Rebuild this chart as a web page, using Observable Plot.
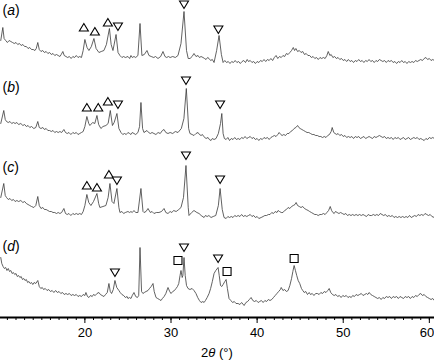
<!DOCTYPE html>
<html>
<head>
<meta charset="utf-8">
<script src="https://cdn.jsdelivr.net/npm/d3@7"></script>
<script src="https://cdn.jsdelivr.net/npm/@observablehq/plot@0.6"></script>
<style>
  html, body { margin: 0; padding: 0; background: white; }
</style>
</head>
<body>
<div id="chart"></div>
<script>
// ---- data (2θ in degrees, intensity above each trace's baseline) ----
const traceA = [[10.23,22],[10.47,35],[10.62,24],[10.8,22],[11.0,20],[11.2,22],[11.4,21],[11.6,20],[11.8,19],[12.0,20],[12.2,18],[12.4,19],[12.6,17],[12.8,18],[13.0,16],[13.2,16],[13.4,14],[13.6,15],[13.8,13],[14.0,13],[14.2,12],[14.35,14],[14.53,20],[14.7,13],[14.9,11],[15.1,12],[15.3,10],[15.5,11],[15.7,9],[15.9,10],[16.1,8],[16.3,9],[16.5,7],[16.7,8],[16.9,7],[17.1,6],[17.25,8],[17.44,11],[17.6,7],[17.8,6],[18.0,5],[18.2,6],[18.4,4],[18.6,6],[18.8,5],[19.0,7],[19.2,5],[19.4,6],[19.6,5],[19.8,12],[20.0,23],[20.25,15],[20.47,12],[20.75,16],[21.05,24],[21.3,14],[21.63,10],[21.9,11],[22.21,12],[22.5,18],[22.85,34],[23.05,18],[23.26,12],[23.62,28],[23.85,10],[24.07,7],[24.3,5],[24.5,6],[24.7,5],[25.0,6],[25.2,4],[25.35,7],[25.5,5],[25.7,6],[25.9,5],[26.16,7],[26.4,39],[26.62,7],[26.9,8],[27.21,12],[27.44,7],[27.7,6],[28.0,5],[28.2,6],[28.49,4],[28.8,6],[29.07,11],[29.3,6],[29.5,5],[29.7,6],[29.9,5],[30.2,6],[30.5,5],[30.81,7],[31.16,19],[31.51,51],[31.8,12],[32.0,4],[32.21,4],[32.45,6],[32.67,9],[32.9,6],[33.14,7],[33.3,5],[33.49,6],[33.72,5],[33.9,4],[34.07,3],[34.25,5],[34.42,4],[34.6,2],[34.8,3],[35.0,0],[35.3,12],[35.58,27],[35.85,8],[36.05,0],[36.25,2],[36.45,0],[36.65,1],[36.85,-1],[37.05,1],[37.25,0],[37.45,2],[37.65,0],[37.85,1],[38.05,-1],[38.25,1],[38.45,2],[38.65,0],[38.85,3],[39.0,1],[39.2,2],[39.4,0],[39.6,1],[39.8,-1],[40.0,1],[40.2,0],[40.4,2],[40.6,1],[40.8,3],[41.0,1],[41.2,3],[41.4,2],[41.6,4],[41.8,2],[42.0,5],[42.2,7],[42.4,4],[42.6,6],[42.8,5],[43.0,7],[43.2,6],[43.4,9],[43.6,8],[43.8,10],[44.0,12],[44.2,15],[44.35,12],[44.5,14],[44.7,11],[44.9,12],[45.1,10],[45.3,11],[45.5,8],[45.7,9],[45.9,7],[46.1,7],[46.3,5],[46.5,6],[46.7,4],[46.9,5],[47.1,3],[47.3,5],[47.5,4],[47.7,5],[47.9,4],[48.1,7],[48.26,11],[48.45,7],[48.6,8],[48.8,5],[49.0,6],[49.2,4],[49.4,5],[49.6,3],[49.8,4],[50.0,2],[50.2,3],[50.4,1],[50.6,3],[50.8,1],[51.0,2],[51.2,0],[51.4,2],[51.6,1],[51.8,3],[52.0,1],[52.2,2],[52.4,0],[52.6,2],[52.8,1],[53.0,3],[53.2,1],[53.4,2],[53.6,0],[53.8,2],[54.0,1],[54.2,3],[54.4,2],[54.6,1],[54.8,2],[55.0,0],[55.2,2],[55.4,1],[55.6,2],[55.8,0],[56.0,1],[56.2,-1],[56.4,1],[56.6,0],[56.8,2],[57.0,0],[57.2,1],[57.4,-1],[57.6,1],[57.8,0],[58.0,1],[58.2,0],[58.4,2],[58.6,1],[58.8,2],[59.0,3],[59.2,2],[59.4,4],[59.6,5],[59.8,3],[60.0,4],[60.2,2],[60.4,3],[60.58,2]];
const traceB = [[10.23,15],[10.58,28],[10.75,19],[10.9,17],[11.1,16],[11.3,17],[11.5,15],[11.7,16],[11.9,15],[12.1,16],[12.3,14],[12.56,15],[12.8,13],[13.0,14],[13.2,12],[13.4,13],[13.6,11],[13.8,12],[14.07,10],[14.3,11],[14.53,17],[14.7,11],[14.9,10],[15.12,11],[15.3,9],[15.5,10],[15.7,8],[15.9,8],[16.1,7],[16.3,8],[16.5,6],[16.7,7],[16.9,6],[17.1,7],[17.3,6],[17.56,9],[17.75,6],[17.95,5],[18.15,6],[18.37,4],[18.6,6],[18.8,5],[19.0,6],[19.2,4],[19.4,5],[19.6,6],[19.8,7],[20.0,12],[20.23,22],[20.45,15],[20.58,13],[20.9,16],[21.15,15],[21.4,23],[21.6,14],[21.86,10],[22.1,12],[22.44,13],[22.7,15],[22.95,28],[23.2,13],[23.4,16],[23.72,25],[23.95,10],[24.19,6],[24.4,4],[24.6,5],[24.8,4],[25.0,6],[25.2,5],[25.35,4],[25.5,6],[25.7,5],[25.9,4],[26.16,6],[26.35,12],[26.51,36],[26.7,10],[26.86,6],[27.21,8],[27.4,6],[27.6,5],[27.8,6],[28.02,5],[28.25,4],[28.5,6],[28.75,5],[29.0,8],[29.19,9],[29.4,6],[29.65,5],[29.9,6],[30.2,5],[30.5,7],[30.81,6],[31.2,10],[31.5,20],[31.78,50],[32.05,10],[32.2,5],[32.45,4],[32.67,3],[32.9,5],[33.14,6],[33.3,4],[33.49,3],[33.65,4],[33.8,2],[34.07,0],[34.3,1],[34.45,-1],[34.65,-2],[34.8,0],[35.0,-1],[35.23,0],[35.5,5],[35.75,15],[35.9,25],[36.05,5],[36.2,0],[36.4,-1],[36.6,1],[36.8,-2],[37.0,0],[37.2,-1],[37.4,1],[37.6,-1],[37.8,0],[38.0,-1],[38.2,1],[38.4,0],[38.6,2],[38.8,0],[39.0,1],[39.2,2],[39.4,0],[39.6,1],[39.8,-1],[40.0,0],[40.2,-2],[40.4,0],[40.6,-1],[40.8,1],[41.0,0],[41.2,1],[41.4,-1],[41.6,1],[41.8,2],[42.0,3],[42.2,2],[42.4,4],[42.56,6],[42.75,4],[42.9,3],[43.1,4],[43.3,3],[43.5,5],[43.7,5],[43.9,7],[44.1,8],[44.3,10],[44.5,11],[44.7,13],[44.85,11],[45.0,10],[45.2,9],[45.4,8],[45.6,7],[45.8,6],[46.0,6],[46.2,5],[46.4,4],[46.6,4],[46.8,3],[47.0,3],[47.2,2],[47.4,2],[47.6,1],[47.8,2],[48.0,1],[48.2,3],[48.4,4],[48.6,7],[48.72,11],[48.9,6],[49.05,5],[49.25,4],[49.4,5],[49.6,3],[49.8,4],[50.0,2],[50.2,3],[50.4,1],[50.6,2],[50.8,1],[51.0,2],[51.2,0],[51.4,2],[51.6,1],[51.8,2],[52.0,0],[52.2,1],[52.4,2],[52.6,0],[52.8,1],[53.0,2],[53.2,1],[53.4,0],[53.6,2],[53.8,1],[54.0,2],[54.2,3],[54.4,2],[54.6,1],[54.8,2],[55.0,0],[55.2,1],[55.4,0],[55.6,1],[55.8,-1],[56.0,1],[56.2,0],[56.4,1],[56.6,-1],[56.8,0],[57.0,1],[57.2,-1],[57.4,0],[57.6,1],[57.8,-1],[58.0,0],[58.2,1],[58.4,0],[58.6,1],[58.8,-1],[59.0,0],[59.2,-1],[59.4,-2],[59.6,0],[59.8,-1],[60.0,1],[60.2,0],[60.4,1],[60.58,0]];
const traceC = [[10.23,20],[10.58,34],[10.75,22],[10.9,20],[11.1,18],[11.3,19],[11.5,17],[11.7,18],[11.9,16],[12.1,17],[12.3,16],[12.56,17],[12.8,15],[13.0,16],[13.2,14],[13.4,13],[13.6,12],[13.8,11],[14.07,10],[14.3,12],[14.53,21],[14.7,12],[14.9,9],[15.12,10],[15.3,8],[15.5,8],[15.7,7],[15.9,6],[16.1,6],[16.3,5],[16.5,5],[16.7,4],[16.9,5],[17.1,4],[17.3,5],[17.56,9],[17.75,4],[17.95,3],[18.15,4],[18.37,2],[18.6,4],[18.8,3],[19.0,4],[19.2,3],[19.4,4],[19.6,3],[19.8,6],[20.0,12],[20.23,23],[20.45,15],[20.7,12],[21.0,16],[21.4,24],[21.6,14],[21.74,10],[22.1,11],[22.44,12],[22.7,20],[22.91,34],[23.15,16],[23.37,14],[23.72,29],[23.95,10],[24.07,5],[24.3,6],[24.5,4],[24.7,5],[25.0,6],[25.2,5],[25.35,6],[25.5,5],[25.7,7],[25.9,5],[26.16,5],[26.51,29],[26.75,6],[26.86,5],[27.1,6],[27.33,9],[27.6,5],[27.8,6],[28.02,4],[28.3,5],[28.6,5],[28.9,6],[29.19,9],[29.4,5],[29.65,4],[29.9,6],[30.1,5],[30.3,7],[30.6,6],[30.9,8],[31.16,10],[31.45,20],[31.74,52],[32.0,10],[32.09,2],[32.4,5],[32.67,7],[33.0,5],[33.26,4],[33.5,2],[33.84,0],[34.0,2],[34.2,1],[34.4,2],[34.65,0],[34.9,1],[35.2,2],[35.5,12],[35.7,29],[35.95,8],[36.16,0],[36.4,-1],[36.6,1],[36.8,0],[37.0,1],[37.2,0],[37.4,2],[37.6,1],[37.8,2],[38.0,1],[38.2,3],[38.4,1],[38.6,2],[38.8,1],[39.0,2],[39.2,3],[39.4,1],[39.6,2],[39.8,0],[40.0,1],[40.2,-1],[40.47,0],[40.7,1],[40.9,2],[41.1,2],[41.3,3],[41.5,3],[41.7,5],[41.9,4],[42.1,6],[42.3,5],[42.44,7],[42.6,6],[42.8,5],[43.0,5],[43.2,7],[43.4,8],[43.6,10],[43.8,9],[44.0,11],[44.2,12],[44.4,13],[44.53,15],[44.7,12],[44.9,11],[45.1,10],[45.3,11],[45.5,9],[45.7,8],[45.93,7],[46.1,6],[46.3,5],[46.5,4],[46.7,3],[46.9,3],[47.09,2],[47.3,3],[47.5,3],[47.7,4],[47.9,3],[48.1,5],[48.3,7],[48.49,11],[48.65,7],[48.8,5],[48.95,4],[49.1,6],[49.3,5],[49.5,4],[49.7,5],[49.9,4],[50.1,3],[50.3,4],[50.5,2],[50.7,3],[50.9,2],[51.1,3],[51.28,2],[51.5,3],[51.7,2],[51.9,3],[52.1,2],[52.3,3],[52.5,2],[52.7,1],[52.9,3],[53.1,2],[53.3,2],[53.5,3],[53.7,2],[53.9,3],[54.1,2],[54.3,4],[54.5,3],[54.7,2],[54.9,3],[55.1,1],[55.3,2],[55.5,1],[55.7,2],[55.9,0],[56.1,1],[56.3,0],[56.5,1],[56.7,0],[56.9,1],[57.1,0],[57.3,1],[57.5,0],[57.7,2],[57.9,0],[58.1,1],[58.3,2],[58.5,1],[58.7,3],[58.9,2],[59.1,3],[59.3,2],[59.5,4],[59.7,3],[59.9,2],[60.1,3],[60.3,1],[60.58,0]];
const traceD = [[10.23,46],[10.35,40],[10.5,37],[10.65,35],[10.8,36],[10.95,33],[11.1,35],[11.25,32],[11.4,33],[11.55,30],[11.7,31],[11.85,29],[12.0,30],[12.15,27],[12.3,28],[12.45,26],[12.6,27],[12.75,24],[12.9,25],[13.05,23],[13.2,24],[13.35,21],[13.5,22],[13.65,20],[13.8,21],[13.95,19],[14.1,21],[14.3,20],[14.53,23],[14.7,17],[14.88,15],[15.05,16],[15.2,14],[15.4,15],[15.6,13],[15.8,14],[16.0,12],[16.2,13],[16.4,11],[16.6,13],[16.8,11],[17.0,12],[17.2,10],[17.4,11],[17.6,9],[17.8,10],[18.0,9],[18.2,10],[18.4,8],[18.6,9],[18.8,8],[19.0,9],[19.2,7],[19.4,8],[19.6,7],[19.8,9],[20.0,8],[20.12,11],[20.3,7],[20.47,6],[20.65,8],[20.85,7],[21.0,9],[21.2,8],[21.4,10],[21.63,11],[21.8,9],[22.0,8],[22.21,7],[22.4,9],[22.6,11],[22.79,20],[22.95,12],[23.1,10],[23.3,14],[23.49,23],[23.7,16],[23.95,13],[24.1,11],[24.3,9],[24.5,8],[24.7,6],[24.9,7],[25.0,5],[25.2,6],[25.35,5],[25.5,8],[25.7,11],[25.9,7],[26.1,6],[26.25,8],[26.4,56],[26.58,12],[26.74,10],[26.9,11],[27.1,12],[27.33,13],[27.5,15],[27.7,17],[27.91,20],[28.05,12],[28.26,6],[28.45,5],[28.65,4],[28.84,3],[29.0,5],[29.2,7],[29.4,10],[29.65,16],[29.85,12],[30.0,10],[30.2,12],[30.4,13],[30.58,15],[30.75,17],[30.9,20],[31.05,28],[31.16,33],[31.3,26],[31.38,28],[31.51,46],[31.65,28],[31.8,18],[31.98,15],[32.2,14],[32.45,15],[32.67,13],[32.9,10],[33.1,6],[33.3,3],[33.49,1],[33.7,2],[33.84,1],[34.0,3],[34.2,6],[34.42,10],[34.6,15],[34.8,22],[35.0,30],[35.2,33],[35.47,36],[35.6,28],[35.75,18],[35.9,17],[36.05,19],[36.25,22],[36.4,24],[36.55,15],[36.74,5],[36.95,3],[37.15,1],[37.35,2],[37.55,0],[37.79,0],[38.0,-1],[38.2,1],[38.49,-2],[38.7,1],[38.9,2],[39.1,4],[39.3,6],[39.5,3],[39.7,2],[39.9,3],[40.12,1],[40.3,2],[40.5,3],[40.7,1],[40.9,3],[41.1,2],[41.3,4],[41.5,3],[41.7,4],[41.9,6],[42.1,8],[42.3,10],[42.5,12],[42.7,14],[42.8,16],[43.0,13],[43.2,14],[43.4,12],[43.6,13],[43.8,18],[44.0,25],[44.15,32],[44.3,38],[44.45,33],[44.6,28],[44.77,23],[44.95,20],[45.15,15],[45.3,13],[45.47,11],[45.65,12],[45.85,9],[46.05,11],[46.2,9],[46.4,10],[46.6,8],[46.8,10],[47.0,10],[47.2,9],[47.4,11],[47.6,10],[47.8,12],[48.0,11],[48.2,13],[48.37,15],[48.55,11],[48.75,9],[48.95,8],[49.15,9],[49.35,7],[49.55,8],[49.75,6],[49.95,8],[50.15,7],[50.35,8],[50.55,6],[50.75,7],[50.93,6],[51.1,8],[51.3,7],[51.5,9],[51.7,8],[51.9,9],[52.1,10],[52.3,8],[52.5,9],[52.7,10],[52.85,9],[53.02,11],[53.2,9],[53.4,8],[53.6,7],[53.8,6],[54.0,5],[54.2,6],[54.4,4],[54.6,6],[54.8,5],[55.0,7],[55.2,6],[55.4,7],[55.6,5],[55.8,7],[56.0,6],[56.2,7],[56.4,5],[56.6,7],[56.8,6],[57.0,5],[57.2,7],[57.4,6],[57.6,7],[57.8,5],[58.0,7],[58.2,6],[58.4,8],[58.6,7],[58.8,9],[59.0,10],[59.2,8],[59.4,9],[59.6,7],[59.8,6],[60.0,5],[60.2,4],[60.4,5],[60.58,3]];

const sampleLabels = ["a", "b", "c", "d"];
const traceOffsets = [255, 179, 100, 14];
const labelLevels = [52, 51, 50, 57];

// peak markers: [2θ, level above baseline, kind]  up = △, down = ▽, square = □
const markersA = [[19.88,35,"up"],[21.16,31,"up"],[22.67,40,"up"],[23.84,36,"down"],[31.51,58,"down"],[35.5,33,"down"]];
const markersB = [[20.23,31,"up"],[21.55,31,"up"],[22.67,37,"up"],[23.84,34,"down"],[31.74,58,"down"],[35.7,34,"down"]];
const markersC = [[20.23,32,"up"],[21.4,30,"up"],[22.79,43,"up"],[23.72,37,"down"],[31.74,62,"down"],[35.7,38,"down"]];
const markersD = [[23.49,31,"down"],[30.81,43,"square"],[31.51,56,"down"],[35.47,45,"down"],[36.51,32,"square"],[44.3,45,"square"]];

const majorTicks = [20, 30, 40, 50, 60];
const minorTicks = d3.range(11, 61, 1);

// ---- build tables ----
const traces = [traceA, traceB, traceC, traceD];
const markerSets = [markersA, markersB, markersC, markersD];
const rows = traces.flatMap((t, i) => t.map(([x, v]) => ({x, y: v + traceOffsets[i], s: sampleLabels[i]})));
const markerRows = markerSets.flatMap((m, i) => m.map(([x, v, k]) => ({x, y: v + traceOffsets[i], k})));
const labelRows = sampleLabels.map((l, i) => ({l, y: traceOffsets[i] + labelLevels[i]}));

const triUp = {draw(ctx) { ctx.moveTo(0, -4); ctx.lineTo(4.5, 3.5); ctx.lineTo(-4.5, 3.5); ctx.closePath(); }};
const triDown = {draw(ctx) { ctx.moveTo(0, 4); ctx.lineTo(4.5, -3.5); ctx.lineTo(-4.5, -3.5); ctx.closePath(); }};
const sq = {draw(ctx) { ctx.rect(-4, -4, 8, 8); }};

const chart = Plot.plot({
  width: 434,
  height: 361,
  marginTop: 0,
  marginRight: 0,
  marginBottom: 44,
  marginLeft: 0,
  style: {fontFamily: "'Liberation Sans', Arial, Helvetica, sans-serif", fontSize: "13px", background: "white", color: "black"},
  x: {domain: [10.2, 60.6]},
  y: {domain: [0, 317], axis: null},
  marks: [
    Plot.line(rows, {x: "x", y: "y", z: "s", stroke: "#3a3a3a", strokeWidth: 0.8}),
    Plot.dot(markerRows.filter(d => d.k === "up"), {x: "x", y: "y", symbol: triUp, stroke: "black", fill: "white", strokeWidth: 1.1}),
    Plot.dot(markerRows.filter(d => d.k === "down"), {x: "x", y: "y", symbol: triDown, stroke: "black", fill: "white", strokeWidth: 1.1}),
    Plot.dot(markerRows.filter(d => d.k === "square"), {x: "x", y: "y", symbol: sq, stroke: "black", fill: "white", strokeWidth: 1.1}),
    Plot.text(labelRows, {x: 10.2, y: "y", text: d => `(${d.l})`, textAnchor: "start", dx: 2, fontSize: 14, fill: "black", className: "sample-label"}),
    Plot.ruleY([0], {stroke: "black", strokeWidth: 2}),
    Plot.axisX({ticks: minorTicks, tickSize: 3, tickFormat: () => "", label: null, strokeWidth: 1}),
    Plot.axisX({ticks: majorTicks, tickSize: 6, tickPadding: 4, fontSize: 13, label: null, strokeWidth: 1, className: "major-axis"})
  ]
});

document.getElementById("chart").appendChild(chart);

// keep the last tick label inside the frame
d3.select(chart).selectAll("text").each(function() {
  if (this.textContent === "60") {
    d3.select(this).attr("text-anchor", "end").attr("dx", 5);
  }
});

// italic sample letters
d3.select(chart).selectAll(".sample-label text").each(function() {
  const t = this.textContent;
  const m = t.match(/^\((.)\)$/);
  if (m) {
    this.textContent = "";
    const s = d3.select(this);
    s.append("tspan").text("(");
    s.append("tspan").attr("font-style", "italic").text(m[1]);
    s.append("tspan").text(")");
  }
});

// x-axis title 2θ (°)
const xt = d3.select(chart).append("text")
  .attr("x", 217).attr("y", 357)
  .attr("text-anchor", "middle")
  .attr("font-size", 13)
  .attr("fill", "black");
xt.append("tspan").text("2");
xt.append("tspan").attr("font-style", "italic").text("θ");
xt.append("tspan").text(" (°)");
</script>
</body>
</html>
